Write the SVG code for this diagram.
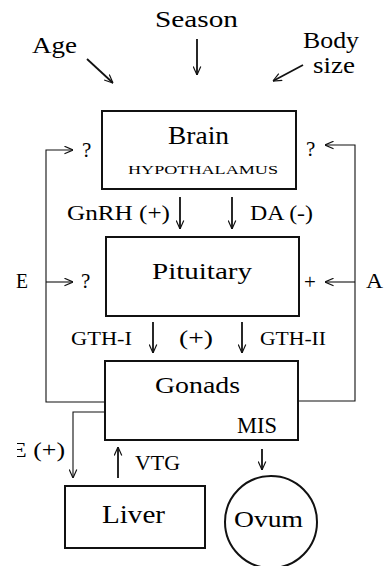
<svg xmlns="http://www.w3.org/2000/svg" width="389" height="566" viewBox="0 0 389 566">
<defs>
<style>
text{font-family:"Liberation Serif","Times New Roman",Times,serif;fill:#000}
.box{fill:#fff;stroke:#111;stroke-width:2}
.c{fill:none;stroke:#111;stroke-width:1.1}
.ct{fill:none;stroke:#111;stroke-width:1.8}
</style>
<marker id="ah" viewBox="0 0 10 10" refX="10" refY="5" markerWidth="9" markerHeight="9" markerUnits="userSpaceOnUse" orient="auto">
<path d="M0.5,0.8 L10,5 L0.5,9.2" fill="none" stroke="#111" stroke-width="1.3"/>
</marker>
<clipPath id="clipE"><rect x="17" y="430" width="80" height="40"/></clipPath>
</defs>
<rect width="389" height="566" fill="#fff"/>
<g id="connectors">
<line class="ct" x1="87" y1="59" x2="113" y2="83" marker-end="url(#ah)"/>
<line class="ct" x1="197" y1="39" x2="197" y2="75" marker-end="url(#ah)"/>
<line class="ct" x1="303" y1="65" x2="273" y2="81" marker-end="url(#ah)"/>
<polyline class="c" points="105,402 46,402 46,150 73,150" marker-end="url(#ah)"/>
<polyline class="c" points="298,401 355,401 355,145 325,145" marker-end="url(#ah)"/>
<line class="c" x1="46" y1="282" x2="73" y2="282" marker-end="url(#ah)"/>
<line class="c" x1="355" y1="282" x2="325" y2="282" marker-end="url(#ah)"/>
<line class="ct" x1="180" y1="197" x2="180" y2="229" marker-end="url(#ah)"/>
<line class="ct" x1="232" y1="197" x2="232" y2="229" marker-end="url(#ah)"/>
<line class="ct" x1="153" y1="322" x2="153" y2="353" marker-end="url(#ah)"/>
<line class="ct" x1="242" y1="322" x2="242" y2="353" marker-end="url(#ah)"/>
<polyline class="c" points="105,412 73,412 73,478" marker-end="url(#ah)"/>
<line class="ct" x1="118" y1="478" x2="118" y2="447" marker-end="url(#ah)"/>
<line class="ct" x1="262" y1="449" x2="262" y2="470" marker-end="url(#ah)"/>
</g>
<g id="inputs">
<text x="155" y="27" font-size="24" textLength="83" lengthAdjust="spacingAndGlyphs">Season</text>
<text x="32" y="53" font-size="24" textLength="45" lengthAdjust="spacingAndGlyphs">Age</text>
<text x="303" y="48" font-size="23" textLength="56" lengthAdjust="spacingAndGlyphs">Body</text>
<text x="313" y="73" font-size="23" textLength="42" lengthAdjust="spacingAndGlyphs">size</text>
</g>
<g id="brain">
<rect class="box" x="102" y="111" width="194" height="78"/>
<text x="168" y="144" font-size="25" textLength="61" lengthAdjust="spacingAndGlyphs">Brain</text>
<text x="128" y="174" font-size="11.5" textLength="150" lengthAdjust="spacingAndGlyphs">HYPOTHALAMUS</text>
</g>
<g id="pituitary">
<rect class="box" x="106" y="237" width="193" height="79"/>
<text x="152" y="279" font-size="24" textLength="100" lengthAdjust="spacingAndGlyphs">Pituitary</text>
</g>
<g id="gonads">
<rect class="box" x="105" y="361" width="193" height="79"/>
<text x="155" y="393" font-size="24" textLength="85" lengthAdjust="spacingAndGlyphs">Gonads</text>
<text x="237" y="433" font-size="24" textLength="40" lengthAdjust="spacingAndGlyphs">MIS</text>
</g>
<g id="liver">
<rect class="box" x="65" y="486" width="140" height="62"/>
<text x="102" y="523" font-size="25" textLength="63" lengthAdjust="spacingAndGlyphs">Liver</text>
</g>
<g id="ovum">
<circle class="box" cx="271" cy="522" r="46" stroke-width="1.5"/>
<text x="234" y="527" font-size="23" textLength="69" lengthAdjust="spacingAndGlyphs">Ovum</text>
</g>
<g id="labels">
<text x="82" y="157" font-size="21">?</text>
<text x="306" y="156" font-size="21">?</text>
<text x="67" y="220" font-size="22" textLength="103" lengthAdjust="spacingAndGlyphs">GnRH (+)</text>
<text x="250" y="220" font-size="22" textLength="63" lengthAdjust="spacingAndGlyphs">DA (-)</text>
<text x="16" y="288" font-size="20" textLength="12" lengthAdjust="spacingAndGlyphs">E</text>
<text x="81" y="288" font-size="21">?</text>
<text x="304" y="289" font-size="21">+</text>
<text x="366" y="288" font-size="22" textLength="17" lengthAdjust="spacingAndGlyphs">A</text>
<text x="71" y="345" font-size="18" textLength="61" lengthAdjust="spacingAndGlyphs">GTH-I</text>
<text x="179" y="345" font-size="21" textLength="34" lengthAdjust="spacingAndGlyphs">(+)</text>
<text x="260" y="345" font-size="18" textLength="66" lengthAdjust="spacingAndGlyphs">GTH-II</text>
<text x="11" y="457" font-size="21" textLength="54" lengthAdjust="spacingAndGlyphs" clip-path="url(#clipE)">E (+)</text>
<text x="135" y="470" font-size="20" textLength="45" lengthAdjust="spacingAndGlyphs">VTG</text>
</g>
</svg>
